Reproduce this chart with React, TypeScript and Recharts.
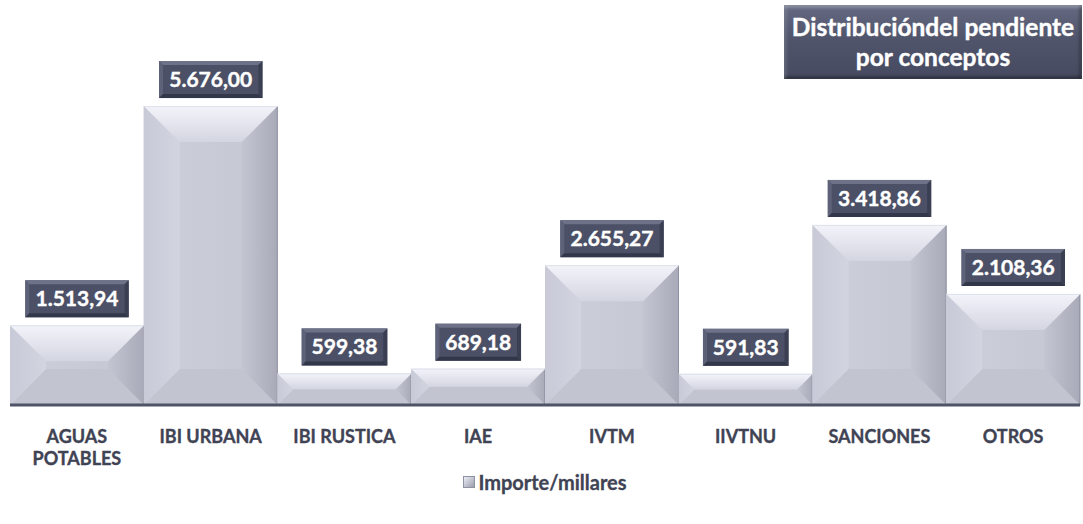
import React from "react";
import { BarChart, Bar, XAxis, YAxis, LabelList, Legend } from "recharts";

const categories = ["AGUAS POTABLES", "IBI URBANA", "IBI RUSTICA", "IAE", "IVTM", "IIVTNU", "SANCIONES", "OTROS"];
const importe = [1513.94, 5676.0, 599.38, 689.18, 2655.27, 591.83, 3418.86, 2108.36];
const valueLabels = ["1.513,94", "5.676,00", "599,38", "689,18", "2.655,27", "591,83", "3.418,86", "2.108,36"];
const seriesName = "Importe/millares";
const titleLines = ["Distribucióndel pendiente", "por conceptos"];

const data = categories.map((c, i) => ({ name: c, value: importe[i], label: valueLabels[i] }));

const FONT = "Lato, 'Open Sans', sans-serif";
const TEXT_DARK = "#3f4354";

const BevelBar = (props: any) => {
  const { x, y, width, height } = props;
  if (!height || height <= 0) return null;
  const w = width;
  const h = height;
  const b = Math.min(36, h / 2, w / 2);
  const p = (pts: number[][]) => pts.map((q) => q.join(",")).join(" ");
  return (
    <g>
      <rect x={x} y={y} width={w} height={h} fill="url(#faceGrad)" />
      <polygon points={p([[x, y + h], [x + b, y + h - b], [x + w - b, y + h - b], [x + w, y + h]])} fill="#c2c4d0" />
      <polygon points={p([[x, y], [x + b, y + b], [x + b, y + h - b], [x, y + h]])} fill="url(#leftGrad)" />
      <polygon points={p([[x + w, y], [x + w, y + h], [x + w - b, y + h - b], [x + w - b, y + b]])} fill="url(#rightGrad)" />
      <polygon points={p([[x, y], [x + w, y], [x + w - b, y + b], [x + b, y + b]])} fill="url(#topGrad)" />
      <line x1={x + w - 0.5} y1={y} x2={x + w - 0.5} y2={y + h} stroke="#8f92a3" strokeWidth={1} />
      <line x1={x} y1={y + 0.5} x2={x + w} y2={y + 0.5} stroke="#dfe1eb" strokeWidth={1} />
    </g>
  );
};

const charW = (ch: string) => (/[0-9]/.test(ch) ? 0.58 : 0.27);
const textWidth = (s: string, fs: number) => s.split("").reduce((a, c) => a + charW(c), 0) * fs;

const ValueLabel = (props: any) => {
  const { x, y, width, value } = props;
  const fs = 21;
  const tw = textWidth(String(value), fs);
  const bw = tw + 19;
  const bh = 37;
  const cx = x + width / 2;
  const by = y - 8 - bh;
  const bx = cx - bw / 2;
  const e = 4;
  return (
    <g>
      <rect x={bx} y={by} width={bw} height={bh} fill="#4b5066" />
      <polygon points={`${bx},${by} ${bx + bw},${by} ${bx + bw - e},${by + e} ${bx + e},${by + e}`} fill="#6d7289" />
      <polygon points={`${bx},${by} ${bx + e},${by + e} ${bx + e},${by + bh - e} ${bx},${by + bh}`} fill="#5d6278" />
      <polygon points={`${bx + bw},${by} ${bx + bw},${by + bh} ${bx + bw - e},${by + bh - e} ${bx + bw - e},${by + e}`} fill="#3b3f52" />
      <polygon points={`${bx},${by + bh} ${bx + e},${by + bh - e} ${bx + bw - e},${by + bh - e} ${bx + bw},${by + bh}`} fill="#33374a" />
      <text x={cx} y={by + bh / 2 + 7.5} textAnchor="middle" fill="#ffffff" fontFamily={FONT} fontWeight={700} fontSize={fs} stroke="#ffffff" strokeWidth={0.4}>
        {value}
      </text>
    </g>
  );
};

const CategoryTick = (props: any) => {
  const { x, y, payload } = props;
  const label: string = payload.value;
  const lines = label.length > 12 ? label.split(" ") : [label];
  return (
    <g>
      {lines.map((ln, i) => (
        <text key={i} x={x} y={y + 30 + i * 22} textAnchor="middle" fill={TEXT_DARK} fontFamily={FONT} fontWeight={700} fontSize={18} stroke={TEXT_DARK} strokeWidth={0.35}>
          {ln}
        </text>
      ))}
    </g>
  );
};

const LegendContent = () => (
  <div style={{ height: 49, width: "100%", position: "relative", fontFamily: FONT }}>
    <div style={{ position: "absolute", top: -5, left: 0, width: "100%", display: "flex", justifyContent: "center", alignItems: "center" }}>
      <span style={{ display: "inline-block", width: 10, height: 10, background: "linear-gradient(135deg,#eceef6,#9a9cab)", border: "1px solid #8f92a3", marginRight: 3 }} />
      <span style={{ fontSize: 20, fontWeight: 700, color: TEXT_DARK, WebkitTextStroke: "0.3px #3f4354" }}>{seriesName}</span>
    </div>
  </div>
);

export default function App() {
  return (
    <div style={{ position: "absolute", left: 0, top: 0, width: 1083, height: 524, background: "#ffffff" }}>
      <BarChart width={1083} height={524} data={data} margin={{ top: 89, right: 3, left: 10, bottom: 0 }} barCategoryGap={0} barGap={0}>
        <defs>
          <linearGradient id="faceGrad" x1="0" y1="0" x2="1" y2="0">
            <stop offset="0" stopColor="#cdcfdb" />
            <stop offset="1" stopColor="#c4c6d2" />
          </linearGradient>
          <linearGradient id="topGrad" x1="0" y1="0" x2="0" y2="1">
            <stop offset="0" stopColor="#f3f4fa" />
            <stop offset="1" stopColor="#d3d5e1" />
          </linearGradient>
          <linearGradient id="leftGrad" x1="0" y1="0" x2="1" y2="0">
            <stop offset="0" stopColor="#c8cad7" />
            <stop offset="1" stopColor="#d2d4e0" />
          </linearGradient>
          <linearGradient id="rightGrad" x1="0" y1="0" x2="1" y2="0">
            <stop offset="0" stopColor="#c3c5d1" />
            <stop offset="1" stopColor="#a8aab8" />
          </linearGradient>
        </defs>
        <XAxis dataKey="name" axisLine={{ stroke: "#4f5366", strokeWidth: 3 }} tickLine={false} tick={<CategoryTick />} height={70} interval={0} />
        <YAxis hide domain={[0, 6000]} />
        <Legend verticalAlign="bottom" content={<LegendContent />} />
        <Bar dataKey="value" name={seriesName} shape={<BevelBar />} isAnimationActive={false}>
          <LabelList dataKey="label" content={<ValueLabel />} />
        </Bar>
      </BarChart>
      <div
        style={{
          position: "absolute",
          left: 784,
          top: 5,
          width: 298,
          height: 74,
          background: "linear-gradient(180deg,#656a82 0%,#50556c 45%,#454a60 100%)",
          boxShadow: "inset 0 3px 3px rgba(255,255,255,0.25), inset 0 -3px 3px rgba(0,0,0,0.3), inset 3px 0 3px rgba(255,255,255,0.12), inset -3px 0 3px rgba(0,0,0,0.25)",
          color: "#ffffff",
          fontFamily: FONT,
          fontWeight: 700,
          fontSize: 24.5,
          lineHeight: "30px",
          textAlign: "center",
          paddingTop: 7,
          boxSizing: "border-box",
          WebkitTextStroke: "0.4px #ffffff",
          whiteSpace: "nowrap",
        }}
      >
        {titleLines.map((t, i) => (
          <div key={i}>{t}</div>
        ))}
      </div>
    </div>
  );
}
